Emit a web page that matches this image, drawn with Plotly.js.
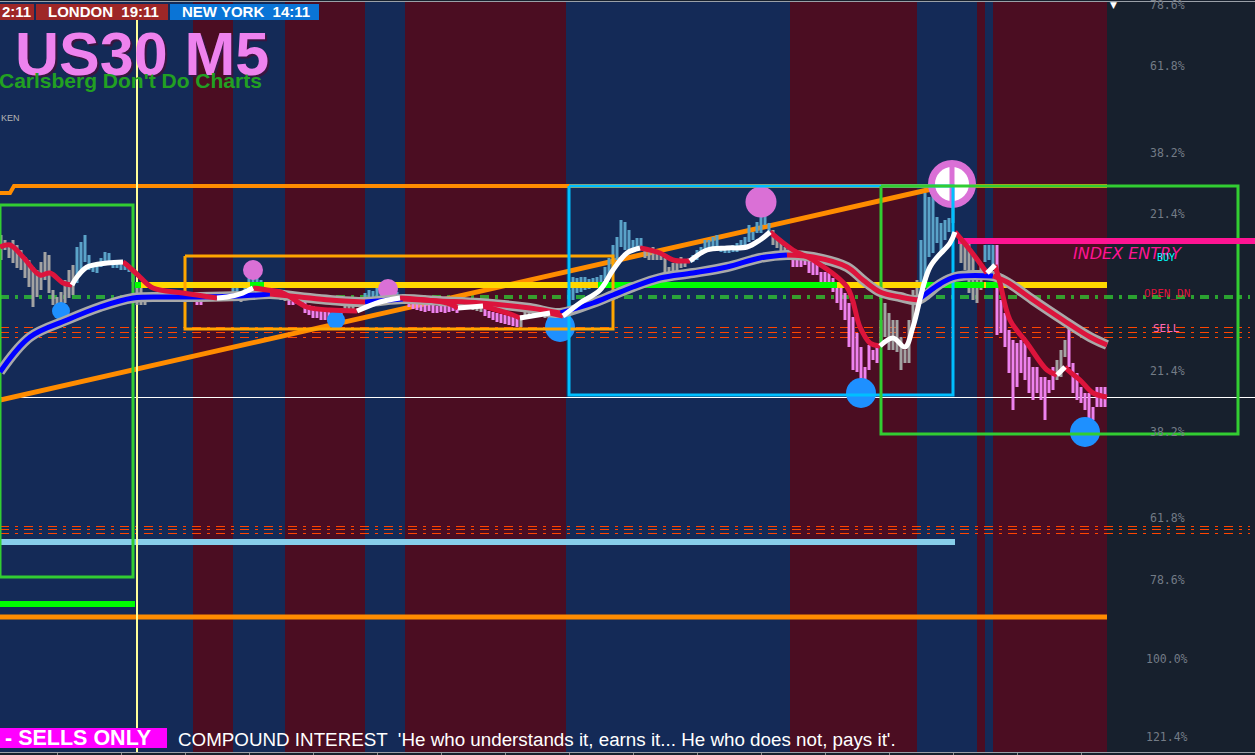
<!DOCTYPE html>
<html>
<head>
<meta charset="utf-8">
<script src="https://cdn.plot.ly/plotly-3.0.1.min.js"></script>
<style>
  html, body { margin: 0; padding: 0; background: #17202d; overflow: hidden; }
  #chart { width: 1255px; height: 755px; }
</style>
</head>
<body>
<div id="chart"></div>
<script>
// ---------------- US30 M5 price bars (bar index, high / low) ----------------
const barHigh = [
  34165,34160,34155,34160,34155,34150,34143,34140,34133,34130,
  34138,34148,34145,34110,34103,34108,34120,34130,34135,34153,
  34158,34165,34145,34137,34137,34142,34148,34147,34138,34140,
  34138,34137,34133,34130,34112,34112,34105,34105,34108,34107,
  34106,34106,34105,34105,34104,34104,34104,34104,34104,34102,
  34101,34104,34105,34105,34104,34104,34105,34107,34112,34114,
  34107,34116,34122,34128,34124,34120,34112,34110,34108,34107,
  34106,34105,34102,34101,34102,34100,34098,34095,34094,34093,
  34092,34091,34090,34089,34088,34092,34095,34097,34098,34100,
  34102,34107,34110,34109,34112,34114,34117,34112,34110,34108,
  34105,34103,34098,34097,34096,34095,34095,34096,34095,34094,
  34095,34094,34094,34095,34094,34096,34097,34096,34096,34095,
  34094,34091,34089,34088,34087,34086,34085,34084,34083,34082,
  34085,34088,34088,34089,34088,34089,34088,34087,34087,34085,
  34084,34085,34110,34123,34122,34123,34123,34121,34122,34123,
  34125,34133,34142,34155,34163,34180,34178,34170,34160,34162,
  34162,34153,34152,34153,34150,34147,34142,34133,34137,34140,
  34143,34140,34142,34145,34150,34153,34160,34160,34163,34165,
  34153,34153,34153,34155,34157,34160,34163,34175,34168,34178,
  34197,34187,34177,34170,34162,34158,34153,34152,34143,34142,
  34140,34143,34140,34138,34137,34128,34128,34127,34122,34113,
  34112,34107,34097,34083,34067,34053,34033,34055,34050,34053,
  34080,34097,34087,34080,34080,34063,34050,34080,34110,34120,
  34160,34207,34203,34210,34183,34177,34180,34182,34210,34213,
  34163,34160,34157,34145,34127,34135,34155,34155,34155,34155,
  34100,34087,34070,34060,34057,34060,34057,34043,34033,34033,
  34023,34023,34020,34033,34040,34050,34060,34073,34037,34027,
  34013,34007,34007,33993,34013,34013,34013
];
const barLow = [
  34140,34150,34142,34137,34132,34130,34122,34113,34093,34103,
  34110,34120,34107,34095,34087,34088,34097,34102,34105,34117,
  34130,34138,34130,34128,34127,34133,34137,34137,34132,34132,
  34130,34130,34128,34118,34095,34095,34095,34100,34101,34100,
  34099,34100,34099,34100,34099,34098,34099,34098,34098,34095,
  34095,34099,34100,34100,34099,34099,34100,34101,34104,34105,
  34098,34107,34108,34110,34112,34110,34104,34103,34102,34101,
  34100,34099,34095,34095,34096,34094,34087,34085,34082,34082,
  34080,34080,34078,34078,34075,34082,34088,34090,34091,34093,
  34095,34100,34102,34102,34104,34104,34106,34103,34102,34101,
  34099,34098,34093,34091,34090,34089,34088,34089,34087,34087,
  34088,34087,34088,34089,34087,34090,34092,34091,34090,34089,
  34088,34084,34082,34080,34078,34077,34076,34075,34074,34073,
  34073,34082,34082,34084,34083,34084,34082,34081,34080,34074,
  34072,34073,34090,34100,34107,34108,34110,34111,34112,34113,
  34115,34120,34123,34132,34140,34153,34150,34148,34148,34153,
  34153,34142,34140,34140,34140,34140,34123,34125,34127,34127,
  34132,34133,34137,34138,34140,34145,34150,34150,34152,34153,
  34148,34147,34147,34148,34148,34152,34155,34158,34160,34167,
  34167,34175,34167,34155,34152,34148,34148,34145,34133,34133,
  34133,34135,34127,34125,34125,34118,34115,34113,34108,34097,
  34090,34080,34053,34030,34028,34007,34020,34030,34040,34037,
  34055,34063,34050,34050,34048,34030,34037,34037,34073,34090,
  34100,34117,34143,34147,34157,34147,34160,34168,34177,34193,
  34137,34130,34107,34100,34097,34110,34138,34140,34130,34065,
  34067,34053,34027,33990,34013,34027,34020,34007,34000,34007,
  34000,33980,34007,34010,34020,34023,34043,34033,34007,34000,
  33997,33990,33973,33980,33993,33993,33993
];
// trend state of each bar as runs: g = neutral, b = bullish, v = bearish
const barTrendRuns = [
  ['g',19],['b',14],['g',16],['v',2],['g',7],['b',2],['g',1],['b',5],['g',6],['v',14],
  ['g',5],['b',9],['g',2],['v',14],['g',5],['v',9],['g',9],['v',3],['b',19],['g',11],
  ['b',21],['g',5],['v',22],['g',10],['b',10],['g',6],['b',3],['v',15],['g',3],['v',10]
];

// ---------------- moving averages ----------------
const fastMaX = [-0.25,2.25,5.5,9.75,12.25,15.5,17.75,19,21.5,26.5,30.5,31.5,34.75,38,45.5,54,56.5,59.75,63,66.5,
  70.5,76.5,82.25,89,94.75,99.75,111.5,114.25,120.5,128,129.75,137.25,140.5,144.75,149.75,153,156.5,159.75,164.75,168,
  172.25,176.5,181.5,186.5,189.75,192.25,198,203,211.5,214.75,217.25,219.75,223,226,228,232.25,237.25,238.5,242.25,246.5,
  248.5,249.75,252.25,256.5,261.5,264,266,267.25,269.75,273,276.5];
const fastMaY = [34153,34155,34143,34125,34127,34117,34115,34123,34133,34137,34138,34135,34123,34112,34107,34102,34103,34106,34112,34110,
  34107,34093,34090,34089,34098,34102,34097,34092,34094,34085,34082,34087,34084,34097,34110,34130,34147,34152,34147,34140,
  34139,34150,34152,34153,34160,34168,34150,34140,34113,34073,34057,34054,34062,34053,34073,34133,34157,34168,34150,34127,
  34135,34117,34080,34057,34030,34025,34033,34028,34020,34007,34003];
// colour state of each segment: r = falling, w = rising
const fastMaState = "rrrrrr wwww rrrrr www rrrrr ww rr w rr w r wwwww rrr wwwww rrrrrr wwwwww rr w rrrrr w rrrr";

const slowMaX = [-0.25,7.25,16.5,24.75,33,41.5,49.75,59.75,67.25,74.75,82.25,91,100.5,109.75,119.75,132.25,139.75,148,153,158,
  164.75,173,181.5,189.75,196.5,203,211.5,215.5,219.75,224.75,229.25,234.75,238.5,248,251.5,258,265.5,272.25,276.5];
const slowMaY = [34028,34063,34080,34093,34102,34103,34103,34104,34106,34103,34100,34098,34101,34099,34097,34092,34087,34097,34105,34113,
  34122,34127,34133,34142,34145,34143,34133,34120,34108,34103,34100,34116,34123,34124,34118,34100,34080,34063,34055];
// b = rising, r = falling
const slowMaState = "bbbbbbbb rrr b rrrr bbbbbbbb rrrrrr bbb rrrrr";

// ---------------- signals ----------------
const buySignalX = [15, 83.75, 139.75, 215, 271];
const buySignalY = [34089, 34080, 34073, 34007, 33968];
const sellSignalX = [63, 96.75, 190];
const sellSignalY = [34130, 34111, 34198];
const entryMarkX = [237.75];
const entryMarkY = [34216];

// ---------------- sessions (bar-index edges) ----------------
const sessionEdges = [-0.25, 48, 58, 71, 91, 101, 141.25, 197.25, 229, 244, 246, 248, 276.5];
const sessionKind = ['n','m','n','m','n','m','n','m','n','m','n','m'];

// ---------------- zones ----------------
const zoneLeft   = [-0.25, 46, 142, 220];
const zoneRight  = [33, 153, 238, 309.25];
const zoneTop    = [34195, 34144, 34214, 34214];
const zoneBottom = [33823, 34071, 34005, 33966];

// ---------------- levels and trend lines ----------------
const openLevels = [34104, 34102];
const sellLevels = [34072.5, 34067.5, 34062.5, 33873.5, 33870.5, 33866.5];
const closeLevel = 34002.5;
const skyLevel = 33858;
const limeLevel = 33796;
const orangeFloor = 33783;
const entryLevel = 34159;
const filterLevel = 34115;
const filterGreenFrom = [33.5, 62.25, 149.25, 230.25, 246.25];
const filterGreenTo   = [35, 65.75, 209, 245.75, 249.75];
const ceilingX = [-0.25, 2.25, 3.25, 276.5];
const ceilingY = [34207, 34207, 34214, 34214];
const channelX = [-0.25, 236];
const channelY = [34000, 34214];
const markerBar = 34;

// ---------------- axis labels ----------------
const fibLabels = ['78.6%','61.8%','38.2%','21.4%','21.4%','38.2%','61.8%','78.6%','100.0%','121.4%'];
const fibPrices = [34395, 34334, 34247, 34186, 34029, 33968, 33882, 33820, 33741, 33663];
const timeTicks = [14, 30, 46, 62, 78, 94, 110, 126, 142, 158, 174, 190, 206, 222, 238, 254, 270];

// =====================================================================
const X_MIN = -0.25, X_MAX = 313.5, Y_MIN = 33648, Y_MAX = 34398;
const W = 1255, TOP = 2, BOTTOM = 752;
const fx = px => px / W;
const fy = py => (BOTTOM - py) / (BOTTOM - TOP);
const ARIAL = 'Liberation Sans, Arial, sans-serif';
const MONO = 'DejaVu Sans Mono, monospace';

const traces = [];
function line(x, y, color, width, dash, shape) {
  traces.push({ x, y, type: 'scatter', mode: 'lines', hoverinfo: 'skip',
    line: { color, width, dash: dash || 'solid', shape: shape || 'linear' } });
}
function level(price, x0, x1, color, width, dash) {
  line([x0, x1], [price, price], color, width, dash);
}
function dots(x, y, color, size, symbol, lineStyle) {
  traces.push({ x, y, type: 'scatter', mode: 'markers', hoverinfo: 'skip',
    marker: { color, size, opacity: 1, symbol: symbol || 'circle', line: lineStyle || { width: 0 } } });
}

// dashed level lines
openLevels.forEach(p => level(p, X_MIN, 312.25, '#32cd32', 1.5, '9px,6px,3px,6px'));
sellLevels.forEach(p => level(p, X_MIN, 312.25, '#ff4500', 1, '9px,6px,3px,6px'));

// solid levels
level(closeLevel, X_MIN, X_MAX, '#ffffff', 1);
level(skyLevel, X_MIN, 238.5, '#87ceeb', 6);
level(limeLevel, X_MIN, 33.5, '#00ff00', 6);
level(orangeFloor, X_MIN, 276.5, '#ff8c00', 5);
line(ceilingX, ceilingY, '#ff8c00', 4);
line(channelX, channelY, '#ff8c00', 5);
line([markerBar, markerBar], [Y_MIN, 34380], '#ffff99', 2);

// bars
const trend = [];
barTrendRuns.forEach(([c, n]) => { for (let k = 0; k < n; k++) trend.push(c); });
const trendColor = { g: '#a3a3a3', b: '#5aa3c9', v: '#ee82ee' };
Object.keys(trendColor).forEach(code => {
  const x = [], y = [];
  barHigh.forEach((h, i) => {
    if (trend[i] === code) { x.push(i, i, null); y.push(barLow[i], h, null); }
  });
  line(x, y, trendColor[code], 3);
});

// trend filter level (gold, green while trend confirmed)
level(filterLevel, 33.5, 276.5, '#ffd700', 6);
filterGreenFrom.forEach((a, k) => level(filterLevel, a, filterGreenTo[k], '#00ff00', 6));

// signals (drawn before the zone outlines)
dots(buySignalX, buySignalY, '#1e90ff', [18, 18, 30, 30, 30]);
dots(sellSignalX, sellSignalY, '#da70d6', [20, 20, 31]);
dots(entryMarkX, entryMarkY, '#da70d6', 48);
dots(entryMarkX, entryMarkY, '#ffffff', 34);
dots(entryMarkX, entryMarkY, '#da70d6', 32, 'line-ns', { color: '#da70d6', width: 5 });

// zones
const zoneStyle = [['#32cd32', 3], ['#ffa500', 3], ['#00bfff', 3], ['#32cd32', 3]];
zoneLeft.forEach((l, k) => {
  const r = zoneRight[k], t = zoneTop[k], b = zoneBottom[k];
  line([l, r, r, l, l], [t, t, b, b, t], zoneStyle[k][0], zoneStyle[k][1]);
});
level(entryLevel, 239.25, X_MAX, '#ff1493', 6);

// moving averages drawn as colour runs
function runs(xs, ys, stateStr, colors, width) {
  const st = stateStr.replace(/\s/g, '').split('');
  const out = {};
  let k = 0;
  while (k < st.length) {
    const c = st[k];
    let e = k;
    while (e + 1 < st.length && st[e + 1] === c) e++;
    out[c] = out[c] || { x: [], y: [] };
    for (let j = k; j <= e + 1; j++) { out[c].x.push(xs[j]); out[c].y.push(ys[j]); }
    out[c].x.push(null); out[c].y.push(null);
    k = e + 1;
  }
  Object.keys(out).forEach(c => line(out[c].x, out[c].y, colors[c], width, 'solid', 'spline'));
}
line(slowMaX, slowMaY, '#a9a9a9', 10, 'solid', 'spline');
runs(slowMaX, slowMaY, slowMaState, { b: '#0000ff', r: '#dc143c' }, 5);
runs(fastMaX, fastMaY, fastMaState, { r: '#dc143c', w: '#ffffff' }, 5);

// ---------------- background sessions ----------------
const shapes = [];
sessionKind.forEach((k, i) => {
  shapes.push({ type: 'rect', layer: 'below', xref: 'x', yref: 'paper',
    x0: sessionEdges[i], x1: sessionEdges[i + 1], y0: 0, y1: 1,
    fillcolor: k === 'n' ? '#142a57' : '#4b0d22', line: { width: 0 } });
});

// header panels and footer badge
function panel(x0, y0, x1, y1, color) {
  shapes.push({ type: 'rect', layer: 'above', xref: 'paper', yref: 'paper',
    x0: fx(x0), x1: fx(x1), y0: fy(y1), y1: fy(y0), fillcolor: color, line: { width: 0 } });
}
panel(0, 4, 34, 20, '#9e2727');
panel(36, 4, 168, 20, '#9e2727');
panel(170, 4, 319, 20, '#0a74d6');
panel(0, 728, 167, 748, '#ff00ff');

// ---------------- text ----------------
const annotations = [];
function text(t, px, py, font, anchor) {
  annotations.push({ text: t, x: fx(px), y: fy(py), xref: 'paper', yref: 'paper',
    showarrow: false, xanchor: anchor || 'left', yanchor: 'middle', font });
}
text('2:11', 33, 12, { family: ARIAL, size: 15, color: '#ffffff', weight: 'bold' }, 'right');
text('LONDON  19:11', 46, 12, { family: ARIAL, size: 15, color: '#ffffff', weight: 'bold' });
text('NEW YORK  14:11', 180, 12, { family: ARIAL, size: 15, color: '#ffffff', weight: 'bold' });
text('US30 M5', 15, 56, { family: ARIAL, size: 61, color: '#3a1540', weight: 'bold' });
text('US30 M5', 13, 54, { family: ARIAL, size: 61, color: '#ee82ee', weight: 'bold' });
text("Carlsberg Don't Do Charts", 264, 81, { family: ARIAL, size: 21, color: '#22a022', weight: 'bold' }, 'right');
text('KEN', -1, 118, { family: ARIAL, size: 9, color: '#b4b4b4' });
text('- SELLS ONLY', 3, 738, { family: ARIAL, size: 21.5, color: '#ffffff', weight: 'bold' });
text("COMPOUND INTEREST  'He who understands it, earns it... He who does not, pays it'.", 176, 739,
  { family: ARIAL, size: 18.8, color: '#ffffff' });
text('INDEX ENTRY', 1127, 253, { family: 'DejaVu Sans, sans-serif', size: 16, color: '#ff1493', style: 'italic' }, 'center');
text('BUY', 1166, 257, { family: MONO, size: 10, color: '#00ffff' }, 'center');
text('OPEN_DN', 1167, 293, { family: MONO, size: 11, color: '#dc143c' }, 'center');
text('SELL', 1166, 328, { family: MONO, size: 11, color: '#ff69b4' }, 'center');
text('\u25BC', 1113, 5, { family: 'DejaVu Sans, sans-serif', size: 9, color: '#ffffff' }, 'center');
fibLabels.forEach((t, k) => {
  annotations.push({ text: t, x: fx(1167), y: fibPrices[k], xref: 'paper', yref: 'y',
    showarrow: false, xanchor: 'center', yanchor: 'middle',
    font: { family: MONO, size: 11.5, color: '#737b86' } });
});

const layout = {
  width: 1255, height: 755,
  margin: { l: 0, r: 0, t: TOP, b: 755 - BOTTOM, pad: 0 },
  paper_bgcolor: '#17202d', plot_bgcolor: '#17202d',
  showlegend: false,
  xaxis: { range: [X_MIN, X_MAX], showgrid: false, zeroline: false, showticklabels: false,
    ticks: 'outside', ticklen: 3, tickcolor: '#8c8c8c', tickvals: timeTicks,
    showline: true, linecolor: '#9aa0a8', linewidth: 1, mirror: true, fixedrange: true },
  yaxis: { range: [Y_MIN, Y_MAX], visible: false, fixedrange: true },
  shapes, annotations
};

Plotly.newPlot('chart', traces, layout, { staticPlot: true, displayModeBar: false });
</script>
</body>
</html>
